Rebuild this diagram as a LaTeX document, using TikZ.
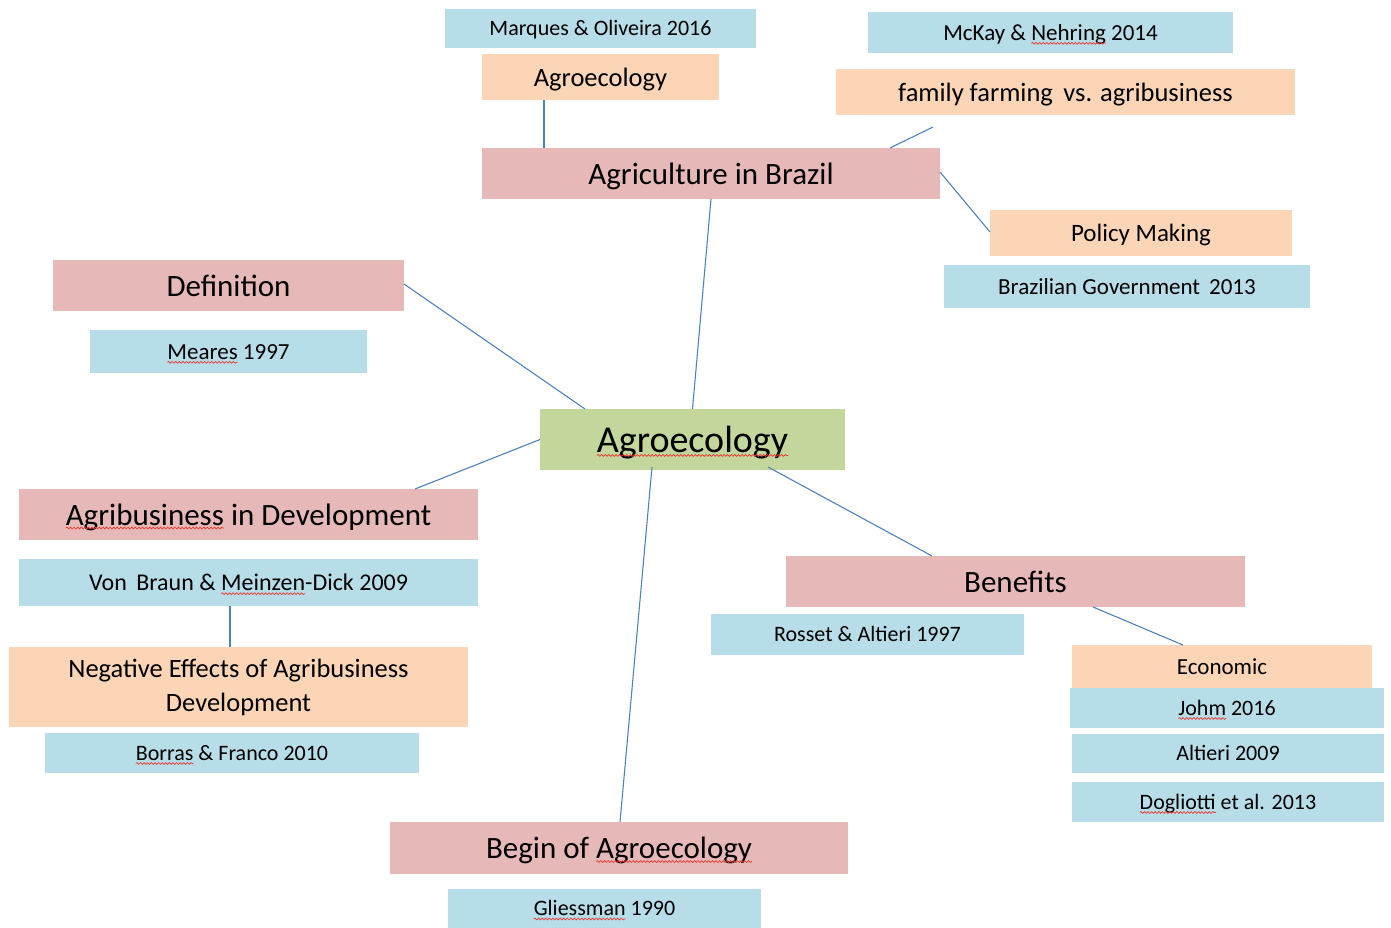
\documentclass[tikz,border=0pt]{standalone}
\usepackage{fontspec}
\setmainfont{Carlito}
\usetikzlibrary{decorations.pathmorphing}

\definecolor{citeblue}{HTML}{B7DDE8}
\definecolor{topicpeach}{HTML}{FBD5B5}
\definecolor{headpink}{HTML}{E6B9B8}
\definecolor{coregreen}{HTML}{C3D69B}
\definecolor{linkblue}{HTML}{4F81BD}
\definecolor{spellred}{HTML}{E8382E}

% word with a wavy spell-check underline
\newcommand\sq[1]{\tikz[baseline=(sqw.base)]{%
  \node[inner sep=0pt,outer sep=0pt,minimum width=0pt,minimum height=0pt,
        text height=,text depth=,fill=none,draw=none] (sqw) {#1};
  \draw[overlay,spellred,line width=0.7pt,decorate,
        decoration={snake,amplitude=0.9pt,segment length=3.6pt}]
    ([yshift=-3pt]sqw.base west) -- ([yshift=-3pt]sqw.base east);}}

\tikzset{
  box/.style={rectangle,inner sep=0pt,outer sep=0pt,text=black,align=center},
  % single-line text sizes with a fixed line box
  f22/.style={font={\fontsize{22}{26}\selectfont},text height=20.9pt,text depth=5.94pt},
  f23/.style={font={\fontsize{23}{27}\selectfont},text height=21.85pt,text depth=6.21pt},
  f24/.style={font={\fontsize{24}{28}\selectfont},text height=22.8pt,text depth=6.48pt},
  f25/.style={font={\fontsize{25}{30}\selectfont},text height=23.75pt,text depth=6.75pt},
  f26/.style={font={\fontsize{26.5}{34}\selectfont},text height=25.18pt,text depth=7.16pt},
  f31/.style={font={\fontsize{31}{37}\selectfont},text height=29.45pt,text depth=8.37pt},
  f38/.style={font={\fontsize{38}{44}\selectfont},text height=36.1pt,text depth=10.26pt},
  cite/.style={box,fill=citeblue,f22},
  topic/.style={box,fill=topicpeach,f26},
  head/.style={box,fill=headpink,f31},
  core/.style={box,fill=coregreen,f38},
  link/.style={draw=linkblue,line width=1.1pt}
}

\begin{document}
\begin{tikzpicture}[x=1pt,y=-1pt]
\useasboundingbox (0,0) rectangle (1391,928);

% centre
\node[core,minimum width=305,minimum height=61] (core) at (692.5,439.5) {\sq{Agroecology}};

% Agriculture in Brazil branch
\node[cite,minimum width=311,minimum height=39] (marques) at (600.5,28.5) {Marques \& Oliveira 2016};
\node[topic,minimum width=237,minimum height=46] (agroB) at (600.5,77) {Agroecology};
\node[head,minimum width=458,minimum height=51] (brazil) at (711,173.5) {Agriculture in Brazil};
\node[cite,f23,minimum width=365,minimum height=41] (mckay) at (1050.5,32.5) {McKay \& \sq{Nehring} 2014};
\node[topic,minimum width=459,minimum height=46] (family) at (1065.5,92) {family farming\, vs. agribusiness};
\node[topic,f25,minimum width=302,minimum height=46] (policy) at (1141,233) {Policy Making};
\node[cite,f23,minimum width=366,minimum height=43] (govt) at (1127,286.5) {Brazilian Government\, 2013};
\coordinate (familyend) at (933,127);

% Definition branch
\node[head,minimum width=351,minimum height=51] (definition) at (228.5,285.5) {Definition};
\node[cite,f23,minimum width=277,minimum height=43] (meares) at (228.5,351.5) {\sq{Meares} 1997};

% Agribusiness branch
\node[head,minimum width=459,minimum height=51] (agribiz) at (248.5,514.5) {\sq{Agribusiness} in Development};
\node[cite,f24,minimum width=459,minimum height=47] (vonbraun) at (248.5,582.5) {Von\, Braun \& \sq{Meinzen}-Dick 2009};
\node[box,fill=topicpeach,font={\fontsize{26.5}{34}\selectfont},minimum width=459,minimum height=80] (negative) at (238.5,687) {Negative Effects of Agribusiness\\Development};
\node[cite,minimum width=374,minimum height=40] (borras) at (232,753) {\sq{Borras} \& Franco 2010};

% Benefits branch
\node[head,minimum width=459,minimum height=51] (benefits) at (1015.5,581.5) {Benefits};
\node[cite,minimum width=313,minimum height=41] (rosset) at (867.5,634.5) {Rosset \& Altieri 1997};
\node[topic,f23,minimum width=300,minimum height=43] (economic) at (1222,666.5) {Economic};
\node[cite,minimum width=314,minimum height=40] (johm) at (1227,708) {\sq{Johm} 2016};
\node[cite,minimum width=312,minimum height=39] (altieri) at (1228,753.5) {Altieri 2009};
\node[cite,minimum width=312,minimum height=40] (dogliotti) at (1228,802) {\sq{Dogliotti} et al. 2013};

% Begin of Agroecology branch
\node[head,minimum width=458,minimum height=52] (begin) at (619,848) {Begin of \sq{Agroecology}};
\node[cite,minimum width=313,minimum height=39] (gliessman) at (604.5,908.5) {\sq{Gliessman} 1990};

% connectors
\draw[link] ([xshift=-56.5]agroB.south) -- ([xshift=-167]brazil.north);
\draw[link] ([xshift=179]brazil.north) -- (familyend);
\draw[link] ([yshift=1.5]brazil.east) -- ([yshift=1]policy.west);
\draw[link] (brazil.south) -- (core.north);
\draw[link] ([yshift=1.5]definition.east) -- ([xshift=45]core.north west);
\draw[link] (core.west) -- ([xshift=166.5]agribiz.north);
\draw[link] ([xshift=75.5,yshift=3]core.south) -- ([xshift=-83.5]benefits.north);
\draw[link] ([xshift=-40.5,yshift=3]core.south) -- ([xshift=1]begin.north);
\draw[link] ([xshift=-18.5]vonbraun.south) -- ([xshift=-8.5]negative.north);
\draw[link] ([xshift=77.5]benefits.south) -- ([xshift=-39]economic.north);
\end{tikzpicture}
\end{document}
